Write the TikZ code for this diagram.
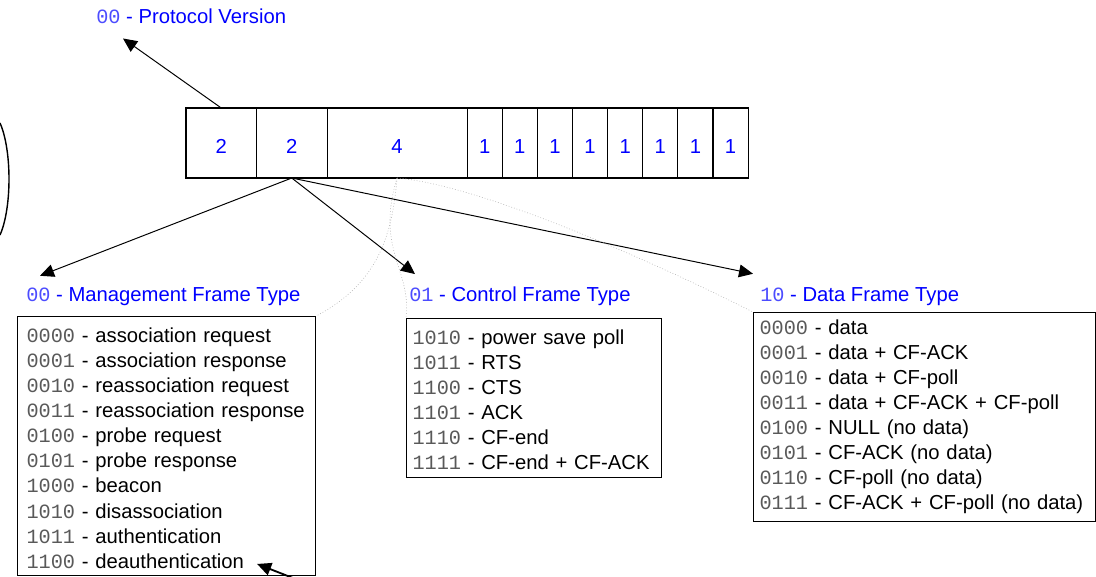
\documentclass[tikz,border=0pt]{standalone}
\usepackage{fontspec}
\setmainfont{Liberation Sans}
\setmonofont{Liberation Mono}
\usepackage{tikz}
\usetikzlibrary{calc,arrows.meta,positioning}
\tikzset{
  field/.style={draw,line width=0.75pt,minimum height=1.75cm,inner sep=0pt,outer sep=0pt,text=blue,text height=0.52cm},
  head/.style={text=blue,inner sep=0pt,anchor=base west},
  listbox/.style={draw,line width=0.75pt,align=left,anchor=north west,inner xsep=0.15cm,inner ysep=0.175cm},
  lead/.style={execute at begin node={\rule{0pt}{0.47cm}}},
  faint/.style={gray!60,line width=0.4pt,dash pattern=on 0.6pt off 1.4pt},
  every node/.style={font=\fontsize{14.4}{17.85}\selectfont}
}
\tikzstyle{pointer} = [line width=0.7pt,-{Triangle[length=0.35cm,width=0.32cm]}]
\newcommand{\bits}[2][black!65]{\textcolor{#1}{\ttfamily #2}}

\begin{document}
\begin{tikzpicture}[x=0.025cm,y=-0.025cm]
  \useasboundingbox (0,0) rectangle (1096,577);
  % frame control fields
  \node[field,minimum width=1.7625cm] (f1) at (221.25,143) {2};
  \node[field,minimum width=1.7625cm,right=0pt of f1] (f2) {2};
  \node[field,minimum width=3.5cm,right=0pt of f2] (f3) {4};
  \node[field,minimum width=0.878cm,right=0pt of f3] (f4) {1};
  \node[field,minimum width=0.878cm,right=0pt of f4] (f5) {1};
  \node[field,minimum width=0.878cm,right=0pt of f5] (f6) {1};
  \node[field,minimum width=0.878cm,right=0pt of f6] (f7) {1};
  \node[field,minimum width=0.878cm,right=0pt of f7] (f8) {1};
  \node[field,minimum width=0.878cm,right=0pt of f8] (f9) {1};
  \node[field,minimum width=0.878cm,right=0pt of f9] (f10) {1};
  \node[field,minimum width=0.878cm,right=0pt of f10] (f11) {1};

  % headings
  \node[head] (pvhead) at (96,24) {\bits[blue!70]{00} - Protocol Version};
  \node[head] (mgmthead) at (26,301) {\bits[blue!70]{00} - Management Frame Type};
  \node[head] (ctrlhead) at (409,301) {\bits[blue!70]{01} - Control Frame Type};
  \node[head] (datahead) at (760,301) {\bits[blue!70]{10} - Data Frame Type};

  % subtype lists
  \node[listbox,lead,inner xsep=0.225cm,text width=7cm] (mgmt) at (17,316) {%
    \bits{0000} - association request\\
    \bits{0001} - association response\\
    \bits{0010} - reassociation request\\
    \bits{0011} - reassociation response\\
    \bits{0100} - probe request\\
    \bits{0101} - probe response\\
    \bits{1000} - beacon\\
    \bits{1010} - disassociation\\
    \bits{1011} - authentication\\
    \bits{1100} - deauthentication};
  \node[listbox,lead,text width=6.075cm] (ctrl) at (406,318) {%
    \bits{1010} - power save poll\\
    \bits{1011} - RTS\\
    \bits{1100} - CTS\\
    \bits{1101} - ACK\\
    \bits{1110} - CF-end\\
    \bits{1111} - CF-end + CF-ACK};
  \node[listbox,text width=8.25cm] (data) at (753,312) {%
    \bits{0000} - data\\
    \bits{0001} - data + CF-ACK\\
    \bits{0010} - data + CF-poll\\
    \bits{0011} - data + CF-ACK + CF-poll\\
    \bits{0100} - NULL (no data)\\
    \bits{0101} - CF-ACK (no data)\\
    \bits{0110} - CF-poll (no data)\\
    \bits{0111} - CF-ACK + CF-poll (no data)};

  % pointers
  \draw[pointer] (f1.north) -- ($(pvhead.south west)+(27,14)$);
  \draw[pointer] (f2.south) -- ($(mgmthead.north west)+(14,-11)$);
  \draw[pointer] (f2.south) -- ($(ctrlhead.north west)+(6,-12)$);
  \draw[pointer] (f2.south) -- ($(datahead.north west)+(-7,-13)$);

  % faint leftover connectors
  \draw[faint] (f3.south) .. controls (392,240) and (375,285) .. (mgmt.north east);
  \draw[faint] (f3.south) .. controls (375,250) and (412,270) .. (ctrl.north west);
  \draw[faint] (f3.south) .. controls (480,185) and (650,260) .. (data.north west);

  % stray bits at the edges
  \draw[line width=1pt] (0,123) .. controls (12,150) and (12,208) .. (0,235);
  \coordinate (stray) at (298,580);
  \draw[pointer,line width=1.3pt] (stray) -- ($(mgmt.south east)+(-59,-12)$);
\end{tikzpicture}
\end{document}
